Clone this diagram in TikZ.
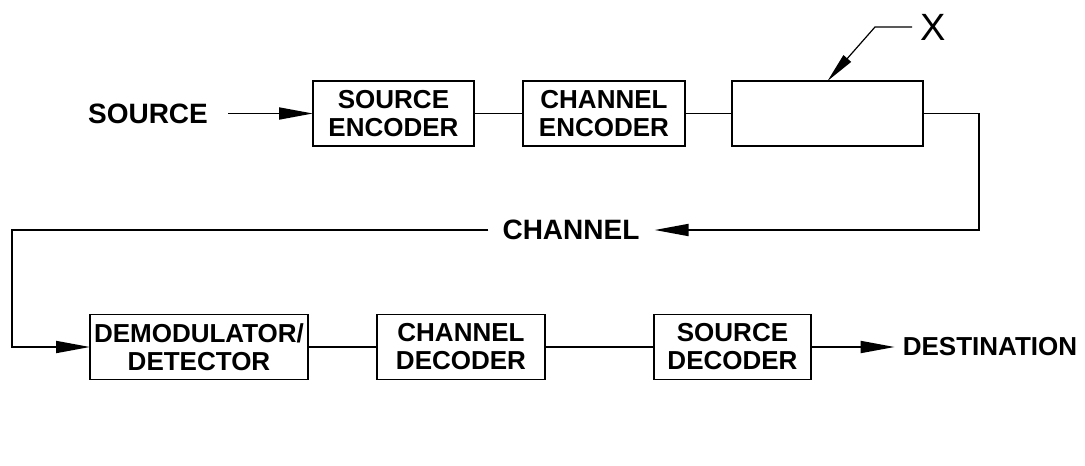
\documentclass[tikz,border=0pt]{standalone}
\usepackage{fontspec}
\setmainfont{Liberation Sans}
\usetikzlibrary{arrows.meta}
\begin{document}
\begin{tikzpicture}[x=1pt,y=-1pt,
  lbl/.style={font=\fontsize{28}{28}\selectfont\bfseries, inner sep=0pt, align=center},
  blk/.style={draw, line width=1.8pt, minimum height=65pt, inner sep=0pt, outer sep=0pt, align=center, font=\fontsize{26}{28}\selectfont\bfseries},
  wire/.style={line width=1.8pt},
  arr/.style={line width=1.8pt, -{Triangle[length=34pt,width=12pt]}}]
\useasboundingbox (0,0) rectangle (1085,466);
% nodes
\node[lbl] (src) at (148,113.5) {SOURCE};
\node[blk, minimum width=161pt] (se) at (393.5,113.5) {SOURCE\\ENCODER};
\node[blk, minimum width=162pt] (ce) at (604,113.5) {CHANNEL\\ENCODER};
\node[blk, minimum width=191pt] (mod) at (827.5,113.5) {};
\node[lbl, font=\fontsize{38}{38}\selectfont] (xl) at (933,27) {X};
\node[lbl] (chan) at (571,230) {CHANNEL};
\node[blk, minimum width=218pt] (dm) at (199,347) {DEMODULATOR/\\DETECTOR};
\node[blk, minimum width=168pt] (cd) at (461,347) {CHANNEL\\DECODER};
\node[blk, minimum width=157pt] (sd) at (732.5,347) {SOURCE\\DECODER};
\node[lbl, font=\fontsize{26}{26}\selectfont\bfseries] (dest) at (990,347) {DESTINATION};
\coordinate (tr) at (979,0);
\coordinate (bl) at (12,347);
\coordinate (xk) at (875,27);
% connectors
\draw[arr, shorten <=20pt] (src.east) -- (se.west);
\draw[wire] (se.east) -- (ce.west);
\draw[wire] (ce.east) -- (mod.west);
\draw[arr, shorten >=15pt] (mod.east) -| (tr |- chan.east) -- (chan.east);
\draw[arr, shorten <=14pt] (chan.west) -| (bl) -- (dm.west);
\draw[wire] (dm.east) -- (cd.west);
\draw[wire] (cd.east) -- (sd.west);
\draw[arr, shorten >=8pt] (sd.east) -- (dest.west);
\draw[line width=1.2pt, -{Triangle[length=30pt,width=10pt]}, shorten <=8pt] (xl.west) -- (xk) -- (mod.north);
\end{tikzpicture}
\end{document}
